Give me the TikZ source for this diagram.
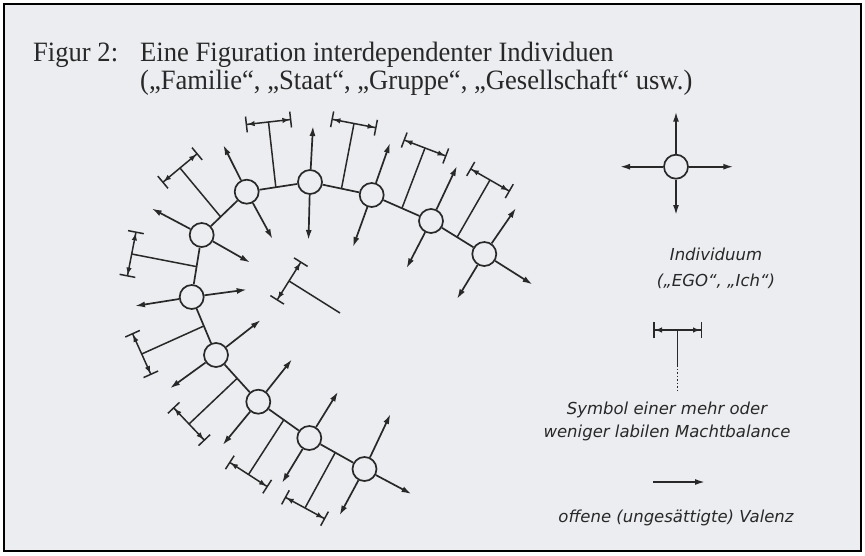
\documentclass[tikz,border=0pt]{standalone}
\usepackage{fontspec}
\setmainfont{Liberation Serif}
\newfontfamily\titlefont[FakeStretch=0.95]{Liberation Serif}
\newfontfamily\legfont{DejaVu Sans}
\usetikzlibrary{arrows.meta,calc}
\definecolor{paper}{RGB}{236,237,240}
\definecolor{ink}{RGB}{40,40,40}
\newcommand\machtbal[2]{%
  \draw[stem] (#1) -- (#2);
  \draw[balbar] ($(#2)!23pt!90:(#1)$) -- ($(#2)!23pt!-90:(#1)$);
}
\begin{document}
\begin{tikzpicture}[x=1pt,y=-1pt,
  indiv/.style={circle,draw=ink,line width=1.7pt,minimum size=24pt,inner sep=0pt,fill=paper},
  link/.style={draw=ink,line width=1.7pt},
  valenz/.style={draw=ink,line width=1.7pt,-{Latex[length=10pt,width=6pt]}},
  stem/.style={draw=ink,line width=1.5pt},
  balbar/.style={draw=ink,line width=1.5pt,{Bar[width=16pt]Latex[length=7.5pt,width=5.5pt]}-{Latex[length=7.5pt,width=5.5pt]Bar[width=16pt]}},
  titel/.style={font=\titlefont\fontsize{28}{28}\selectfont,text=ink,inner sep=0pt,anchor=base west},
  legtext/.style={font=\legfont\itshape\fontsize{16.5}{22}\selectfont,text=ink,inner sep=0pt},
]
\useasboundingbox (0,0) rectangle (865,555);
\fill[white] (0,0) rectangle (865,555);
\fill[paper] (4,4) rectangle (861,551);
\draw[black,line width=1.2pt] (4,4) rectangle (861,551);

% title
\node[titel] (t0) at (33,61) {Figur 2:};
\node[titel] (t1) at (140,61) {Eine Figuration interdependenter Individuen};
\node[titel] (t2) at (140,89) {(„Familie“, „Staat“, „Gruppe“, „Gesellschaft“ usw.)};

% individuals
\node[indiv] (A) at (246.7,191.7) {};
\node[indiv] (B) at (310,182) {};
\node[indiv] (C) at (371.7,195) {};
\node[indiv] (F) at (431,221) {};
\node[indiv] (G) at (484.3,254) {};
\node[indiv] (D) at (201.7,235) {};
\node[indiv] (E) at (191.7,297) {};
\node[indiv] (H) at (216,355) {};
\node[indiv] (I) at (258.3,401.7) {};
\node[indiv] (J) at (309.3,438) {};
\node[indiv] (K) at (364.5,469) {};

% links
\draw[link] (D) -- (A);
\draw[link] (A) -- (B);
\draw[link] (B) -- (C);
\draw[link] (C) -- (F);
\draw[link] (F) -- (G);
\draw[link] (D) -- (E);
\draw[link] (E) -- (H);
\draw[link] (H) -- (I);
\draw[link] (I) -- (J);
\draw[link] (J) -- (K);

% open valences
\coordinate (a1) at (223.3,145);   \coordinate (a2) at (272.5,239);
\coordinate (b1) at (313,126);     \coordinate (b2) at (308.5,240);
\coordinate (c1) at (390,143);     \coordinate (c2) at (353,247);
\coordinate (d1) at (151.7,208.5); \coordinate (d2) at (250,262.5);
\coordinate (e1) at (135,306);     \coordinate (e2) at (246.7,289.6);
\coordinate (f1) at (457,166);     \coordinate (f2) at (406.5,268.3);
\coordinate (g1) at (516,208);     \coordinate (g2) at (532.5,284.5); \coordinate (g3) at (457,299);
\coordinate (h1) at (260.7,320);   \coordinate (h2) at (170,388.3);
\coordinate (i1) at (292,359.3);   \coordinate (i2) at (222.7,445);
\coordinate (j1) at (338,391.7);   \coordinate (j2) at (282,483);
\coordinate (k1) at (390.5,414);   \coordinate (k2) at (411.5,494);   \coordinate (k3) at (339.5,515.5);
\foreach \n/\t in {A/a1,A/a2,B/b1,B/b2,C/c1,C/c2,D/d1,D/d2,E/e1,E/e2,F/f1,F/f2,G/g1,G/g2,G/g3,H/h1,H/h2,I/i1,I/i2,J/j1,J/j2,K/k1,K/k2,K/k3}
  {\draw[valenz] (\n) -- (\t);}

% balances of power
\coordinate (bDA) at ($(D)!0.42!(A)$); \coordinate (cDA) at (180,168);
\coordinate (bAB) at ($(A)!0.46!(B)$); \coordinate (cAB) at (268.5,122);
\coordinate (bBC) at ($(B)!0.51!(C)$); \coordinate (cBC) at (354,123.5);
\coordinate (bCF) at ($(C)!0.51!(F)$); \coordinate (cCF) at (425,148);
\coordinate (bFG) at ($(F)!0.49!(G)$); \coordinate (cFG) at (490,180);
\coordinate (bDE) at ($(D)!0.51!(E)$); \coordinate (cDE) at (131.7,254);
\coordinate (bEH) at ($(E)!0.5!(H)$);  \coordinate (cEH) at (141.7,354);
\coordinate (bHI) at ($(H)!0.5!(I)$);  \coordinate (cHI) at (189,424);
\coordinate (bIJ) at ($(I)!0.5!(J)$);  \coordinate (cIJ) at (248.5,474.5);
\coordinate (bJK) at ($(J)!0.47!(K)$); \coordinate (cJK) at (305,508);
\coordinate (bFr) at (340,313);        \coordinate (cFr) at (289,281);
\foreach \p in {DA,AB,BC,CF,FG,DE,EH,HI,IJ,JK,Fr}
  {\machtbal{b\p}{c\p}}

% legend: individual
\node[indiv] (L) at (676,166.7) {};
\coordinate (Lu) at (676,111.7);
\coordinate (Ld) at (676,215);
\coordinate (Ll) at (620,166.7);
\coordinate (Lr) at (733.3,166.7);
\foreach \t in {Lu,Ld,Ll,Lr} {\draw[valenz] (L) -- (\t);}
\node[legtext] (li1) at (716,254) {Individuum};
\node[legtext] (li2) at (716,281) {(„EGO“, „Ich“)};

% legend: balance
\coordinate (Tl) at (653,330);
\coordinate (Tr) at (702,330);
\coordinate (Tc) at (677.7,330);
\coordinate (Tm) at (677.7,365);
\coordinate (Tb) at (677.7,392);
\draw[balbar] (Tl) -- (Tr);
\draw[stem] (Tc) -- (Tm);
\draw[stem,dotted] (Tm) -- (Tb);
\node[legtext] (lb1) at (667,410) {Symbol einer mehr oder};
\node[legtext] (lb2) at (667,433) {weniger labilen Machtbalance};

% legend: valence
\coordinate (Va) at (653,482);
\coordinate (Vb) at (705,482);
\draw[valenz] (Va) -- (Vb);
\node[legtext] (lv) at (676,518) {offene (ungesättigte) Valenz};
\end{tikzpicture}
\end{document}
